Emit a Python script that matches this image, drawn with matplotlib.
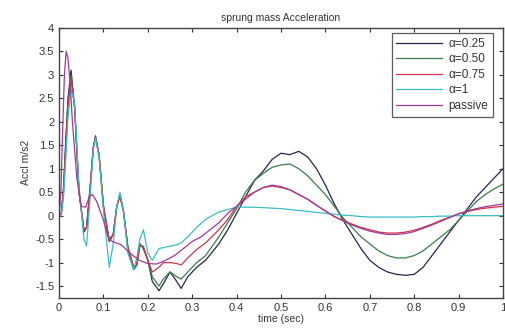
import matplotlib.pyplot as plt

# (time in sec, accel in m/s2)
t_early = [0.0, 0.005, 0.01, 0.015, 0.02, 0.027, 0.035, 0.045, 0.056, 0.062, 0.07, 0.077,
           0.082, 0.09, 0.1, 0.113, 0.122, 0.13, 0.137, 0.145, 0.155, 0.168, 0.175, 0.182, 0.19]

a25_early = [0.0, 0.05, 0.6, 1.6, 2.5, 3.1, 2.3, 0.5, -0.35, -0.25, 0.6, 1.45,
             1.7, 1.3, 0.2, -0.55, -0.4, 0.2, 0.45, 0.1, -0.7, -1.15, -1.05, -0.6, -0.7]
a50_early = [0.0, 0.05, 0.55, 1.5, 2.4, 3.0, 2.3, 0.5, -0.3, -0.25, 0.6, 1.45,
             1.68, 1.3, 0.2, -0.5, -0.4, 0.2, 0.42, 0.1, -0.65, -1.1, -1.05, -0.6, -0.7]
a75_early = [0.0, 0.05, 0.5, 1.4, 2.3, 2.9, 2.3, 0.5, -0.3, -0.25, 0.6, 1.45,
             1.65, 1.3, 0.2, -0.55, -0.4, 0.2, 0.4, 0.1, -0.7, -1.1, -1.05, -0.65, -0.65]
a100_early = [0.0, 0.0, 0.4, 1.2, 2.1, 2.7, 2.4, 0.6, -0.5, -0.65, 0.4, 1.4,
              1.65, 1.25, 0.1, -1.1, -0.6, 0.2, 0.5, 0.1, -0.8, -1.15, -0.9, -0.5, -0.3]

t_late = [0.2, 0.21, 0.225, 0.235, 0.25, 0.265, 0.275, 0.29, 0.31, 0.33, 0.36, 0.38, 0.4,
          0.42, 0.44, 0.46, 0.48, 0.5, 0.52, 0.54, 0.56, 0.58, 0.6, 0.62, 0.64, 0.66,
          0.68, 0.7, 0.72, 0.74, 0.76, 0.78, 0.8, 0.82, 0.84, 0.86, 0.88, 0.9, 0.92,
          0.94, 0.96, 0.98, 1.0]

a25_late = [-0.95, -1.4, -1.6, -1.45, -1.2, -1.4, -1.55, -1.3, -1.1, -0.95, -0.6, -0.3, 0.05,
            0.4, 0.75, 0.95, 1.2, 1.33, 1.3, 1.37, 1.25, 1.0, 0.65, 0.25, -0.1, -0.4,
            -0.7, -0.95, -1.1, -1.2, -1.25, -1.27, -1.25, -1.1, -0.85, -0.6, -0.35, -0.1, 0.15,
            0.4, 0.6, 0.8, 1.0]
a50_late = [-0.95, -1.3, -1.5, -1.35, -1.2, -1.3, -1.35, -1.2, -1.0, -0.85, -0.45, -0.15, 0.15,
            0.5, 0.75, 0.9, 1.03, 1.08, 1.1, 1.0, 0.85, 0.65, 0.45, 0.2, -0.05, -0.25,
            -0.45, -0.6, -0.75, -0.85, -0.9, -0.9, -0.85, -0.75, -0.6, -0.45, -0.3, -0.1, 0.1,
            0.3, 0.45, 0.57, 0.67]
a75_late = [-0.95, -1.2, -1.1, -1.0, -1.0, -1.02, -1.05, -0.9, -0.72, -0.58, -0.3, -0.08, 0.2,
            0.4, 0.5, 0.6, 0.63, 0.6, 0.55, 0.45, 0.35, 0.22, 0.1, -0.02, -0.1, -0.18,
            -0.25, -0.3, -0.35, -0.37, -0.37, -0.35, -0.31, -0.25, -0.18, -0.1, -0.03, 0.04, 0.09,
            0.13, 0.16, 0.18, 0.2]
a100_late = [-0.8, -0.95, -0.7, -0.68, -0.65, -0.62, -0.58, -0.45, -0.25, -0.08, 0.08, 0.13, 0.18,
             0.18, 0.18, 0.17, 0.16, 0.15, 0.13, 0.11, 0.09, 0.07, 0.05, 0.03, 0.01, 0.0,
             -0.02, -0.03, -0.03, -0.03, -0.03, -0.03, -0.03, -0.02, -0.02, -0.01, -0.01, 0.0, 0.0,
             0.0, 0.0, 0.0, 0.0]

t_passive = [0.0, 0.004, 0.008, 0.012, 0.016, 0.02, 0.025, 0.03, 0.04, 0.05, 0.06, 0.068, 0.075,
             0.085, 0.1, 0.11, 0.12, 0.14, 0.16, 0.18, 0.2, 0.22, 0.24, 0.26, 0.28, 0.3,
             0.32, 0.34, 0.36, 0.38, 0.4, 0.42, 0.44, 0.46, 0.48, 0.5, 0.52, 0.54, 0.56,
             0.58, 0.6, 0.62, 0.64, 0.66, 0.68, 0.7, 0.72, 0.74, 0.76, 0.78, 0.8, 0.82,
             0.84, 0.86, 0.88, 0.9, 0.92, 0.94, 0.96, 0.98, 1.0]
passive = [0.0, 0.5, 1.8, 3.0, 3.5, 3.35, 2.8, 2.0, 0.8, 0.2, 0.18, 0.4, 0.45,
           0.3, -0.1, -0.45, -0.55, -0.62, -0.8, -0.95, -1.02, -1.03, -0.95, -0.85, -0.7, -0.55,
           -0.45, -0.3, -0.15, 0.05, 0.2, 0.35, 0.5, 0.6, 0.65, 0.62, 0.55, 0.45, 0.35,
           0.22, 0.1, -0.02, -0.11, -0.2, -0.27, -0.33, -0.37, -0.4, -0.4, -0.38, -0.34, -0.27,
           -0.2, -0.12, -0.04, 0.04, 0.1, 0.15, 0.19, 0.22, 0.25]

labels = ['\u03b1=0.25', '\u03b1=0.50', '\u03b1=0.75', '\u03b1=1', 'passive']
colors = ['#262650', '#3d7a4a', '#c8384a', '#3cbcc4', '#a03a96']

plt.rcParams['font.family'] = ['Liberation Sans', 'DejaVu Sans']

fig = plt.figure(figsize=(5.05, 3.28), dpi=100)
ax = fig.add_axes([0.117, 0.092, 0.879, 0.823])

series = [a25_early + a25_late, a50_early + a50_late, a75_early + a75_late,
          a100_early + a100_late]
t_all = t_early + t_late
for i in range(4):
    ax.plot(t_all, series[i], color=colors[i], lw=0.9, label=labels[i])
ax.plot(t_passive, passive, color=colors[4], lw=0.9, label=labels[4])

ax.set_xlim(0, 1)
ax.set_ylim(-1.75, 4)
ax.set_xticks([0, 0.1, 0.2, 0.3, 0.4, 0.5, 0.6, 0.7, 0.8, 0.9, 1])
ax.set_xticklabels(['0', '0.1', '0.2', '0.3', '0.4', '0.5', '0.6', '0.7', '0.8', '0.9', '1'])
ax.set_yticks([-1.5, -1, -0.5, 0, 0.5, 1, 1.5, 2, 2.5, 3, 3.5, 4])
ax.set_yticklabels(['-1.5', '-1', '-0.5', '0', '0.5', '1', '1.5', '2', '2.5', '3', '3.5', '4'])
ax.tick_params(direction='in', length=3, width=0.8, labelsize=8, top=True, right=True,
               colors='#333333', labelcolor='#333333')
for s in ax.spines.values():
    s.set_color('#444444')
    s.set_linewidth(1.0)

ax.set_title('sprung mass Acceleration', fontsize=7.5, color='#333333', pad=5)
ax.set_xlabel('time (sec)', fontsize=7.5, color='#333333', labelpad=1)
ax.set_ylabel('Accl m/s2', fontsize=7.5, color='#333333', labelpad=3)

leg = ax.legend(loc='upper right', bbox_to_anchor=(0.977, 0.981), fontsize=8.5,
                frameon=True, fancybox=False, edgecolor='#333333', handlelength=3.9,
                handletextpad=0.5, borderaxespad=0, labelspacing=0.3, borderpad=0.4)
leg.get_frame().set_linewidth(0.9)
for txt in leg.get_texts():
    txt.set_color('#333333')

fig.savefig('out.png', dpi=100)
